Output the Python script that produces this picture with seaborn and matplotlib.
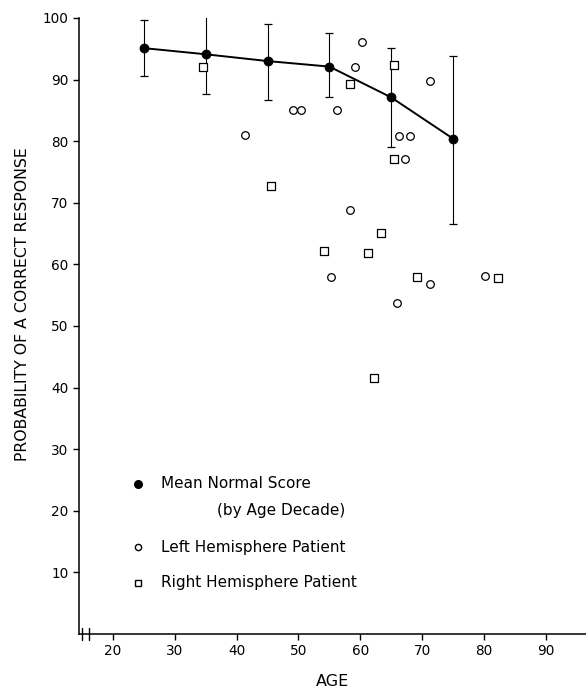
import numpy as np
import pandas as pd
import matplotlib
matplotlib.use("Agg")
import matplotlib.pyplot as plt
import seaborn as sns

# mean normal score by age decade, with error bar ends
decade_age = [25, 35, 45, 55, 65, 75]
mean_score = [95.1, 94.1, 93.0, 92.1, 87.1, 80.4]
err_low = [90.5, 87.7, 86.7, 87.1, 79.1, 66.6]
err_high = [99.7, 100.5, 99.0, 97.5, 95.1, 93.9]

# left hemisphere patients (open circles)
left_age = [41.3, 49.1, 50.4, 55.2, 56.3, 58.3, 59.2, 60.2, 66.0, 66.2, 67.2, 68.1, 71.2, 71.2, 80.1]
left_score = [81.0, 85.1, 85.1, 57.9, 85.1, 68.9, 92.1, 96.1, 53.8, 80.9, 77.1, 80.9, 89.7, 56.8, 58.1]

# right hemisphere patients (open squares)
right_age = [34.5, 45.5, 54.1, 58.4, 61.2, 62.2, 63.3, 65.4, 65.4, 69.1, 82.2]
right_score = [92.0, 72.8, 62.2, 89.2, 61.9, 41.6, 65.1, 92.3, 77.1, 57.9, 57.8]

x_ticks = [20, 30, 40, 50, 60, 70, 80, 90]
y_ticks = [10, 20, 30, 40, 50, 60, 70, 80, 90, 100]

sns.set_style("ticks")
plt.rcParams["font.family"] = ["DejaVu Sans"]
for key in ["text.color", "axes.labelcolor", "xtick.color", "ytick.color", "axes.edgecolor"]:
    plt.rcParams[key] = "black"

fig = plt.figure(figsize=(5.86, 6.9), dpi=100)
ax = fig.add_axes([0.1348, 0.0812, 0.8652, 0.8928])

means = pd.DataFrame({"age": decade_age, "score": mean_score})
left = pd.DataFrame({"age": left_age, "score": left_score})
right = pd.DataFrame({"age": right_age, "score": right_score})

yerr = [np.array(mean_score) - np.array(err_low), np.array(err_high) - np.array(mean_score)]
ax.errorbar(decade_age, mean_score, yerr=yerr, fmt="none", ecolor="black",
            elinewidth=0.8, capsize=3.2, capthick=0.9, zorder=2)
sns.lineplot(data=means, x="age", y="score", color="black", linewidth=1.4,
             marker="o", markersize=6.3, markeredgecolor="black", ax=ax, zorder=3)

sns.scatterplot(data=left, x="age", y="score", marker="o", s=30, facecolor="white",
                edgecolor="black", linewidth=0.9, ax=ax, zorder=4)
sns.scatterplot(data=right, x="age", y="score", marker="s", s=26, facecolor="white",
                edgecolor="black", linewidth=0.9, ax=ax, zorder=4)

ax.set_xlim(14.5, 96.5)
ax.set_ylim(0, 100)
ax.set_xticks(x_ticks)
ax.set_yticks(y_ticks)
ax.tick_params(axis="both", labelsize=9.8, length=4, width=1, direction="out")
ax.set_xlabel("AGE", fontsize=11.5, labelpad=11)
ax.set_ylabel("PROBABILITY OF A CORRECT RESPONSE", fontsize=11.3)
ax.yaxis.set_label_coords(-0.097, 0.535)
sns.despine(ax=ax)
for side in ["left", "bottom"]:
    ax.spines[side].set_linewidth(1.1)

# axis break on the bottom spine
for xb in [15.0, 16.1]:
    ax.plot([xb, xb], [-0.9, 0.9], color="black", lw=1.0, clip_on=False)

# hand-drawn legend
tr = ax.transAxes
fs = 11
ax.plot([0.116], [0.2435], marker="o", color="black", markersize=5.5, transform=tr)
ax.text(0.162, 0.2435, "Mean Normal Score", transform=tr, va="center", fontsize=fs)
ax.text(0.272, 0.201, "(by Age Decade)", transform=tr, va="center", fontsize=fs)
ax.plot([0.116], [0.141], marker="o", markerfacecolor="white", markeredgecolor="black",
        markersize=4.5, transform=tr)
ax.text(0.162, 0.141, "Left Hemisphere Patient", transform=tr, va="center", fontsize=fs)
ax.plot([0.116], [0.083], marker="s", markerfacecolor="white", markeredgecolor="black",
        markersize=4.5, transform=tr)
ax.text(0.162, 0.083, "Right Hemisphere Patient", transform=tr, va="center", fontsize=fs)

fig.savefig("out.png", dpi=100)
